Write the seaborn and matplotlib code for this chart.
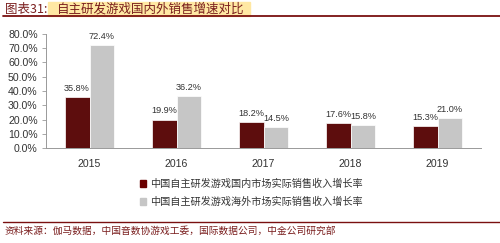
import matplotlib
matplotlib.use("Agg")
import matplotlib.pyplot as plt
import seaborn as sns
import pandas as pd
from matplotlib.patches import Rectangle
from matplotlib.lines import Line2D

years = ["2015", "2016", "2017", "2018", "2019"]
domestic = [35.8, 19.9, 18.2, 17.6, 15.3]
overseas = [72.4, 36.2, 14.5, 15.8, 21.0]
series_names = ["中国自主研发游戏国内市场实际销售收入增长率", "中国自主研发游戏海外市场实际销售收入增长率"]
yticks = [0, 10, 20, 30, 40, 50, 60, 70, 80]
title_prefix = "图表31:"
title_main = "自主研发游戏国内外销售增速对比"
source = "资料来源：伽马数据，中国音数协游戏工委，国际数据公司，中金公司研究部"

sns.set_theme(style="white")
plt.rcParams['font.family'] = ['Noto Sans CJK SC', 'DejaVu Sans']
num_font = ['Liberation Sans Narrow', 'Liberation Sans', 'DejaVu Sans']

df = pd.DataFrame({
    "year": years * 2,
    "value": domestic + overseas,
    "series": [series_names[0]] * len(years) + [series_names[1]] * len(years),
})

colors = ["#6A0000", "#C6C6C6"]
W, H = 500, 243
fig = plt.figure(figsize=(5, 2.43), dpi=100)
ax = fig.add_axes([46 / W, 1 - 148 / H, (481 - 46) / W, (148 - 34) / H])

sns.barplot(data=df, x="year", y="value", hue="series", palette=colors,
            width=0.57, gap=0, edgecolor="white", linewidth=0.5, ax=ax, legend=False)

ax.set_ylim(0, 80)
ax.set_xlim(-0.5, len(years) - 0.5)
ax.set_yticks(yticks)
ax.set_yticklabels([f"{v:.1f}%" for v in yticks], fontsize=7.6, color="#333333",
                   family=num_font)
ax.set_xticks(range(len(years)))
ax.set_xticklabels(years, fontsize=7.6, color="#333333", family=num_font)
ax.set_xticks([i - 0.5 for i in range(len(years) + 1)], minor=True)
ax.tick_params(axis="x", which="major", length=0, pad=8)
ax.tick_params(axis="x", which="minor", length=4, width=0.6, color="#999999", direction="out")
ax.tick_params(axis="y", length=3, width=0.6, color="#999999", direction="out", pad=3, left=True)
ax.set_xlabel("")
ax.set_ylabel("")
for s in ["top", "right"]:
    ax.spines[s].set_visible(False)
for s in ["left", "bottom"]:
    ax.spines[s].set_color("#999999")
    ax.spines[s].set_linewidth(0.7)

for cont in ax.containers:
    ax.bar_label(cont, labels=[f"{v:.1f}%" for v in cont.datavalues], fontsize=6.6,
                 color="#333333", padding=3, family=num_font)

handles = [Rectangle((0, 0), 1, 1, color=c) for c in colors]
fig.legend(handles, series_names, loc="center", bbox_to_anchor=(251 / W, 1 - 193 / H),
           ncol=1, frameon=False, fontsize=7.3, handlelength=0.6, handleheight=0.6,
           handletextpad=0.4, labelspacing=0.75, labelcolor="#333333")

# title with highlight
fig.patches.append(Rectangle((48 / W, 1 - 16 / H), (250 - 48) / W, 14 / H,
                             transform=fig.transFigure, color="#FFE8A3", zorder=0))
fig.text(5 / W, 1 - 9 / H, title_prefix, fontsize=9, color="#7A1E1E", va="center",
         ha="left", style="italic")
fig.text(57 / W, 1 - 9 / H, title_main, fontsize=9, color="#7A1E1E", va="center",
         ha="left", style="italic")
fig.add_artist(Line2D([3 / W, 1], [1 - 16.5 / H] * 2, transform=fig.transFigure,
                      color="#7A1010", linewidth=1.3))

fig.add_artist(Line2D([3 / W, 1], [1 - 222 / H] * 2, transform=fig.transFigure,
                      color="#7A1010", linewidth=1.0))
fig.text(5 / W, 1 - 231 / H, source, fontsize=7, color="#7A1E1E", va="center",
         ha="left", style="italic")

fig.savefig("out.png", dpi=100)
